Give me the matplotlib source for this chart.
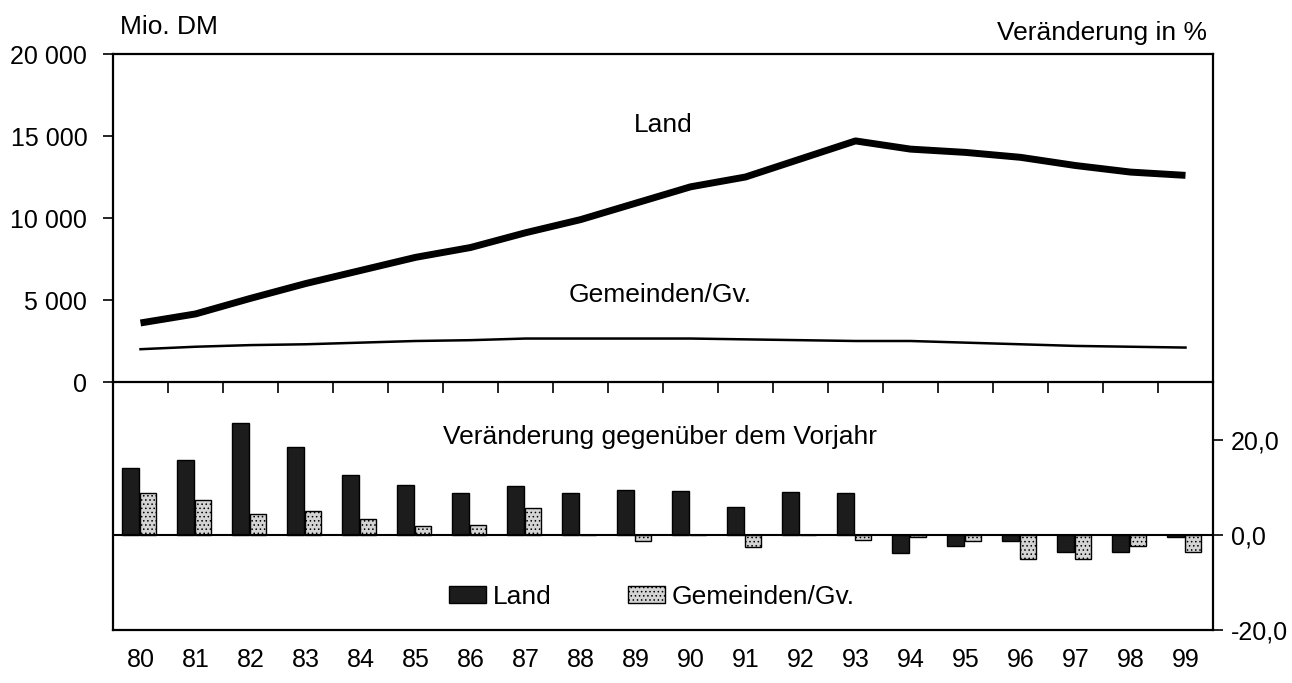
import numpy as np
import matplotlib
matplotlib.use("Agg")
import matplotlib.pyplot as plt

plt.rcParams['font.family'] = ['Liberation Sans', 'DejaVu Sans']
plt.rcParams['hatch.linewidth'] = 0.6

# Daten
jahre = ['80', '81', '82', '83', '84', '85', '86', '87', '88', '89',
         '90', '91', '92', '93', '94', '95', '96', '97', '98', '99']

# Mio. DM
land = [3600, 4150, 5100, 6000, 6800, 7600, 8200, 9100, 9900, 10900,
        11900, 12500, 13600, 14700, 14200, 14000, 13700, 13200, 12800, 12600]
gemeinden = [2000, 2150, 2250, 2300, 2400, 2500, 2550, 2650, 2650, 2650,
             2650, 2600, 2550, 2500, 2500, 2400, 2300, 2200, 2150, 2100]

# Veränderung gegenüber dem Vorjahr in %
land_pct = [14.2, 15.8, 23.5, 18.5, 12.7, 10.5, 8.9, 10.4, 8.8, 9.5,
            9.3, 6.0, 9.0, 8.8, -3.8, -2.4, -1.3, -3.6, -3.6, -0.5]
gem_pct = [8.8, 7.3, 4.4, 5.0, 3.3, 2.0, 2.2, 5.6, 0.1, -1.2,
           0.1, -2.5, 0.1, -1.0, -0.5, -1.2, -5.0, -5.0, -2.3, -3.5]

links_ticks = [0, 5000, 10000, 15000, 20000]
links_labels = ['0', '5 000', '10 000', '15 000', '20 000']
rechts_ticks = [-20, 0, 20]
rechts_labels = ['-20,0', '0,0', '20,0']

x = np.arange(len(jahre))
fs = 19
fs_tick = 18

fig = plt.figure(figsize=(12.92, 6.83), dpi=100)
ax2 = fig.add_axes([113/1292, 1-630/683, 1100/1292, 246/683])
ax1 = fig.add_axes([113/1292, 1-382/683, 1100/1292, 328/683])
ax2.set_facecolor('none')
ax1.set_facecolor('none')

# oben: Linien
ax1.plot(x, land, color='black', lw=5, solid_capstyle='butt')
ax1.plot(x, gemeinden, color='black', lw=1.8)
ax1.set_ylim(0, 20000)
ax1.set_xlim(-0.5, len(jahre) - 0.5)
ax1.set_yticks(links_ticks)
ax1.set_yticklabels(links_labels, fontsize=fs_tick)
ax1.set_xticks(x[:-1] + 0.5)
ax1.tick_params(axis='y', direction='out', length=7, width=1.2, pad=11.5)
ax1.tick_params(axis='x', direction='out', length=8, width=1.2, labelbottom=False)
for s in ax1.spines.values():
    s.set_linewidth(1.6)

ax1.text(9.5, 15700, 'Land', fontsize=fs, ha='center', va='center')
ax1.text(9.45, 5300, 'Gemeinden/Gv.', fontsize=fs, ha='center', va='center')

# unten: Säulen
ax2.bar(x - 0.18, land_pct, width=0.32, color='#1c1c1c', edgecolor='black',
        lw=1, label='Land')
ax2.bar(x + 0.13, gem_pct, width=0.29, color='#d4d4d4', edgecolor='black',
        lw=1, hatch='....', label='Gemeinden/Gv.')
ax2.axhline(0, color='black', lw=1.5)
ax2.set_xlim(-0.5, len(jahre) - 0.5)
ax2.set_ylim(-20, 31.8)
ax2.yaxis.tick_right()
ax2.set_yticks(rechts_ticks)
ax2.set_yticklabels(rechts_labels, fontsize=fs_tick)
ax2.tick_params(axis='y', direction='out', length=7, width=1.2, pad=6)
ax2.set_xticks(x)
ax2.set_xticklabels(jahre, fontsize=fs_tick)
ax2.tick_params(axis='x', length=0, pad=13)
ax2.spines['top'].set_visible(False)
for s in ax2.spines.values():
    s.set_linewidth(1.6)

ax2.text(9.45, 20.6, 'Veränderung gegenüber dem Vorjahr', fontsize=fs,
         ha='center', va='center')

ax2.legend(loc='center left', bbox_to_anchor=(449/1292, 1-597/683),
           bbox_transform=fig.transFigure, ncol=2, frameon=False,
           fontsize=fs, handlelength=1.4, handleheight=0.6,
           handletextpad=0.25, columnspacing=2.9, borderpad=0, borderaxespad=0)

# Achsentitel
fig.text(120/1292, 1-27/683, 'Mio. DM', fontsize=fs, ha='left', va='center')
fig.text(1207/1292, 1-33/683, 'Veränderung in %', fontsize=fs, ha='right', va='center')

fig.savefig('out.png', dpi=100)
